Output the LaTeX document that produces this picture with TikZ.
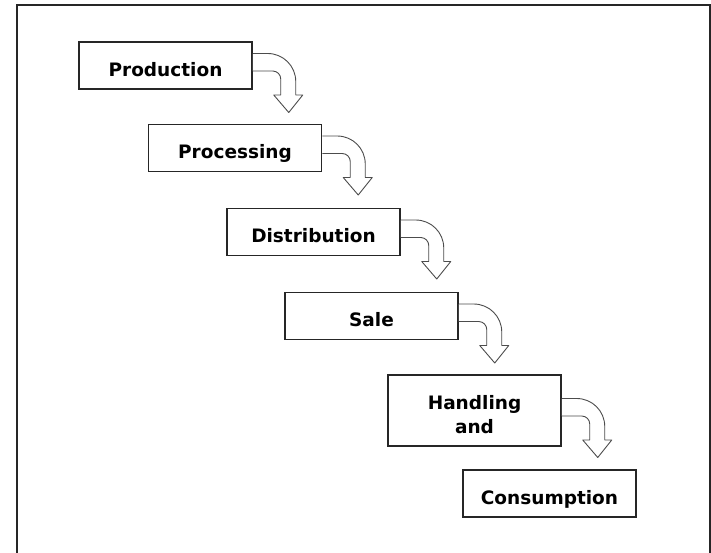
\documentclass[tikz,border=0pt]{standalone}
\usepackage{fontspec}
\setmainfont{DejaVu Sans}
\usepackage{tikz}

\tikzset{
	stage/.style={draw=black!85, line width=1.5pt, minimum width=173pt, minimum height=47pt,
		inner sep=0pt, align=center, text height=21pt, text depth=0pt,
		font=\fontsize{18.5}{24}\selectfont\bfseries},
	flowarrow/.style={draw=black!70, line width=0.9pt, fill=white, line join=round}
}
\newcommand{\bentarrow}[1]{%
	\begin{scope}[shift={(#1.east)}]
		\draw[flowarrow] (0,-12) -- (15,-12) .. controls (30.5,-12) and (43,0.5) .. (43,16)
		-- (43,29.5) -- (50,29.5) -- (36,47) -- (21,29.5) -- (28,29.5) -- (28,13.5)
		.. controls (28,9.1) and (24.4,5.5) .. (20,5.5) -- (0,5.5);
	\end{scope}}

\begin{document}
\begin{tikzpicture}[x=1pt,y=-1pt]
		\useasboundingbox (0,0) rectangle (711,552);
		\draw[line width=2pt, black!85] (17,570) -- (17,5) -- (710,5) -- (710,570);
		\node[stage] (prod) at (165.5,65.5) {Production};
		\node[stage] (proc) at (235,148) {Processing};
		\node[stage] (dist) at (313.5,232) {Distribution};
		\node[stage] (sale) at (371.5,316) {Sale};
		\node[stage, minimum height=71pt, text height=45pt] (hand) at (474.5,410.5) {Handling\\and};
		\node[stage] (cons) at (549.5,493.5) {Consumption};
		\bentarrow{prod}
		\bentarrow{proc}
		\bentarrow{dist}
		\bentarrow{sale}
		\bentarrow{hand}
	\end{tikzpicture}
\end{document}
